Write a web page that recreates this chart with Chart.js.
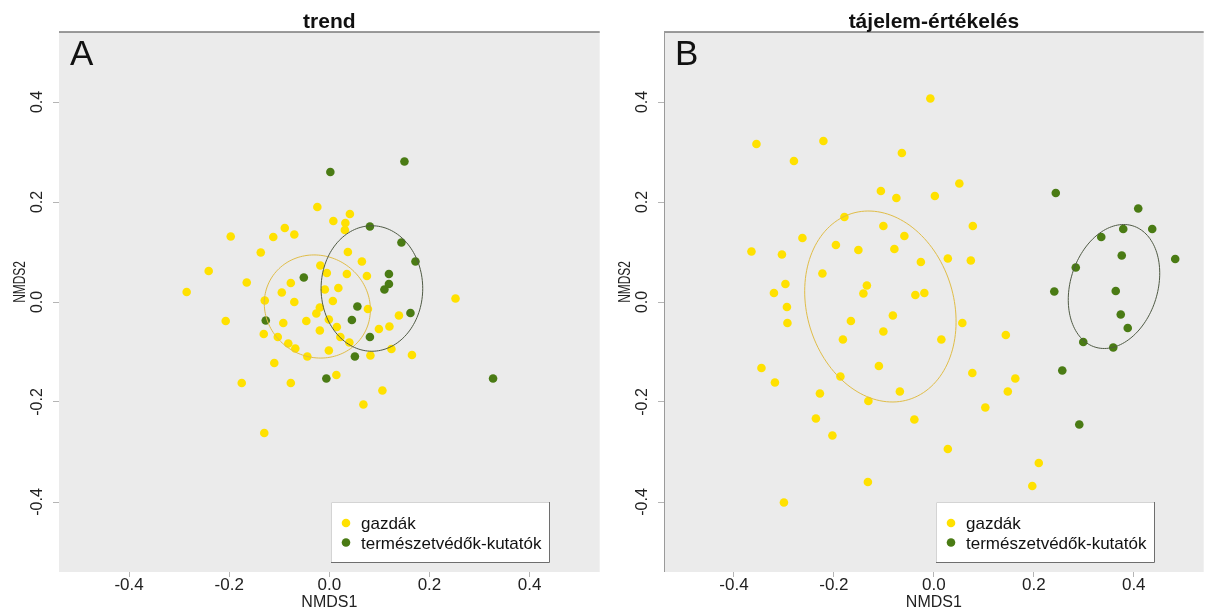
<!DOCTYPE html>
<html>
<head>
<meta charset="utf-8">
<script src="https://cdn.jsdelivr.net/npm/chart.js@4.4.0/dist/chart.umd.min.js"></script>
<style>
    html, body { margin: 0; padding: 0; background: #ffffff; }
    #wrap { position: relative; width: 1208px; height: 612px; }
    .panel { position: absolute; top: 0; width: 604px; height: 612px; }
</style>
</head>
<body>
<div id="wrap">
    <div class="panel" style="left:0"><canvas id="chartA" width="604" height="612"></canvas></div>
    <div class="panel" style="left:604px"><canvas id="chartB" width="604" height="612"></canvas></div>
</div>
<script>
// Axis setup (NMDS1 / NMDS2)
const axisLimits = [-0.54, 0.54];
const xTickValues = [-0.4, -0.2, 0.0, 0.2, 0.4];
const yTickValues = [-0.4, -0.2, 0.0, 0.2, 0.4];
const groupLabels = ['gazdák', 'természetvédők-kutatók'];
const panelTitles = ['trend', 'tájelem-értékelés'];
const panelLetters = ['A', 'B'];

// Panel A - trend
const trendGazdak = [
    [-0.024, 0.190], [0.041, 0.176], [0.008, 0.162], [0.032, 0.158], [0.031, 0.144],
    [-0.089, 0.148], [-0.112, 0.130], [-0.070, 0.135], [-0.197, 0.131], [-0.137, 0.099],
    [0.037, 0.100], [0.065, 0.081], [-0.018, 0.073], [-0.005, 0.058], [0.035, 0.056],
    [0.075, 0.052], [-0.241, 0.062], [-0.165, 0.039], [-0.077, 0.038], [-0.009, 0.025],
    [0.018, 0.028], [-0.095, 0.019], [-0.285, 0.020], [0.252, 0.007], [-0.129, 0.003],
    [-0.070, 0.000], [0.007, 0.002], [-0.019, -0.011], [0.077, -0.014], [-0.026, -0.023],
    [-0.207, -0.038], [-0.092, -0.042], [-0.046, -0.038], [-0.001, -0.035], [0.139, -0.027],
    [-0.019, -0.057], [0.015, -0.050], [0.099, -0.054], [0.120, -0.049], [-0.131, -0.064],
    [-0.103, -0.070], [0.022, -0.070], [-0.082, -0.083], [0.040, -0.081], [-0.068, -0.093],
    [-0.001, -0.097], [0.124, -0.094], [-0.044, -0.109], [0.082, -0.107], [0.165, -0.106],
    [-0.110, -0.122], [-0.175, -0.162], [-0.077, -0.162], [0.014, -0.146], [0.106, -0.177],
    [0.068, -0.205], [-0.130, -0.262]
];
const trendKutatok = [
    [0.002, 0.260], [0.150, 0.281], [0.081, 0.151], [0.144, 0.119], [0.172, 0.081],
    [-0.051, 0.049], [0.119, 0.056], [0.119, 0.036], [0.110, 0.025], [0.056, -0.009],
    [-0.127, -0.037], [0.045, -0.036], [0.162, -0.022], [0.081, -0.070], [0.051, -0.109],
    [-0.006, -0.153], [0.327, -0.153]
];
// ellipses: [centre x, centre y, semi-axis a, semi-axis b, angle in degrees]
const trendEllipseGazdak = [-0.024, -0.009, 0.108, 0.101, -33];
const trendEllipseKutatok = [0.085, 0.027, 0.1255, 0.1015, 90];

// Panel B - tájelem-értékelés
const tajelemGazdak = [
    [-0.007, 0.407], [-0.355, 0.316], [-0.221, 0.322], [-0.280, 0.282], [-0.064, 0.298],
    [0.051, 0.237], [-0.106, 0.222], [-0.075, 0.208], [0.002, 0.212], [-0.179, 0.170],
    [-0.101, 0.152], [0.078, 0.152], [-0.059, 0.132], [-0.263, 0.128], [-0.196, 0.114],
    [-0.151, 0.104], [-0.079, 0.106], [-0.365, 0.101], [-0.304, 0.095], [0.028, 0.087],
    [0.074, 0.083], [-0.026, 0.080], [-0.223, 0.057], [-0.297, 0.036], [-0.134, 0.033],
    [-0.320, 0.018], [-0.141, 0.017], [-0.037, 0.014], [-0.019, 0.018], [-0.294, -0.010],
    [-0.166, -0.038], [-0.082, -0.027], [-0.293, -0.042], [0.057, -0.042], [-0.101, -0.059],
    [0.144, -0.066], [-0.182, -0.075], [0.015, -0.075], [-0.345, -0.132], [-0.318, -0.161],
    [-0.110, -0.128], [-0.187, -0.149], [0.077, -0.142], [0.163, -0.153], [-0.228, -0.183],
    [-0.068, -0.179], [0.148, -0.179], [-0.131, -0.198], [0.103, -0.211], [-0.236, -0.233],
    [-0.039, -0.235], [-0.203, -0.267], [0.028, -0.294], [0.210, -0.322], [-0.132, -0.360],
    [0.197, -0.368], [-0.300, -0.401]
];
const tajelemKutatok = [
    [0.244, 0.218], [0.409, 0.187], [0.335, 0.130], [0.379, 0.146], [0.437, 0.146],
    [0.376, 0.093], [0.483, 0.086], [0.284, 0.069], [0.241, 0.021], [0.364, 0.022],
    [0.374, -0.025], [0.388, -0.052], [0.299, -0.080], [0.359, -0.091], [0.257, -0.137],
    [0.291, -0.245]
];
const tajelemEllipseGazdak = [-0.107, -0.009, 0.1946, 0.1468, -73];
const tajelemEllipseKutatok = [0.3605, 0.031, 0.127, 0.0873, 72.7];

const gazdakColor = '#ffe100';
const kutatokColor = '#4a7b14';
const gazdakEllipseColor = '#e0bd48';
const kutatokEllipseColor = '#4f5a44';
const fontFamily = '"Liberation Sans", Arial, sans-serif';

const fmt = v => (Math.abs(v) < 1e-9 ? 0 : v).toFixed(1);

// Draws the R-style extras: grey plot region, ellipses, frame, labels, legend
const rPlotPlugin = {
    id: 'rPlot',
    beforeDraw(chart) {
        const { ctx, chartArea: a } = chart;
        ctx.save();
        ctx.fillStyle = '#ebebeb';
        ctx.fillRect(a.left, a.top, a.right - a.left, a.bottom - a.top);
        ctx.restore();
    },
    afterDatasetsDraw(chart, args, opts) {
        const { ctx } = chart;
        const xs = chart.scales.x, ys = chart.scales.y;
        ctx.save();
        ctx.lineWidth = 1;
        opts.ellipses.forEach(([e, color]) => {
            const [cx, cy, ea, eb, ang] = e;
            const th = ang * Math.PI / 180;
            ctx.strokeStyle = color;
            ctx.beginPath();
            for (let i = 0; i <= 144; i++) {
                const t = i / 144 * 2 * Math.PI;
                const dx = ea * Math.cos(t), dy = eb * Math.sin(t);
                const px = xs.getPixelForValue(cx + dx * Math.cos(th) - dy * Math.sin(th));
                const py = ys.getPixelForValue(cy + dx * Math.sin(th) + dy * Math.cos(th));
                if (i === 0) ctx.moveTo(px, py); else ctx.lineTo(px, py);
            }
            ctx.closePath();
            ctx.stroke();
        });
        ctx.restore();
    },
    afterDraw(chart, args, opts) {
        const { ctx, chartArea: a } = chart;
        const ys = chart.scales.y;
        ctx.save();

        // top frame line (and left one for panel B)
        ctx.strokeStyle = '#7a7a7a';
        ctx.lineWidth = 1.5;
        ctx.beginPath();
        ctx.moveTo(a.left, a.top);
        ctx.lineTo(a.right, a.top);
        ctx.stroke();
        if (opts.leftLine) {
            ctx.strokeStyle = '#9a9a9a';
            ctx.lineWidth = 1;
            ctx.beginPath();
            ctx.moveTo(a.left + 0.5, a.top);
            ctx.lineTo(a.left + 0.5, a.bottom);
            ctx.stroke();
        }

        // title
        ctx.fillStyle = '#111';
        ctx.font = 'bold 21px ' + fontFamily;
        ctx.textAlign = 'center';
        ctx.textBaseline = 'alphabetic';
        ctx.fillText(opts.title, (a.left + a.right) / 2, 28);

        // panel letter
        ctx.font = '35px ' + fontFamily;
        ctx.textAlign = 'left';
        ctx.fillText(opts.letter, a.left + 11, a.top + 33);

        // rotated y tick labels
        ctx.fillStyle = '#222';
        ctx.font = '16px ' + fontFamily;
        ctx.textAlign = 'center';
        ctx.textBaseline = 'middle';
        ys.ticks.forEach(t => {
            ctx.save();
            ctx.translate(a.left - 21.5, ys.getPixelForValue(t.value));
            ctx.rotate(-Math.PI / 2);
            ctx.fillText(fmt(t.value), 0, 0);
            ctx.restore();
        });

        // y axis title
        ctx.save();
        ctx.font = '17px ' + fontFamily;
        ctx.translate(a.left - 39, 282);
        ctx.rotate(-Math.PI / 2);
        ctx.scale(0.7, 1);
        ctx.fillText('NMDS2', 0, 0);
        ctx.restore();

        // legend box
        const lx = a.left + 272, ly = a.top + 470, lw = 219, lh = 61;
        ctx.fillStyle = '#ffffff';
        ctx.fillRect(lx, ly, lw, lh);
        ctx.lineWidth = 1;
        ctx.strokeStyle = '#d4d4d4';
        ctx.beginPath();
        ctx.moveTo(lx + 0.5, ly + lh);
        ctx.lineTo(lx + 0.5, ly + 0.5);
        ctx.lineTo(lx + lw, ly + 0.5);
        ctx.stroke();
        ctx.strokeStyle = '#6e6e6e';
        ctx.beginPath();
        ctx.moveTo(lx + lw - 0.5, ly);
        ctx.lineTo(lx + lw - 0.5, ly + lh - 0.5);
        ctx.lineTo(lx, ly + lh - 0.5);
        ctx.stroke();

        chart.data.datasets.forEach((ds, i) => {
            ctx.fillStyle = ds.backgroundColor;
            ctx.beginPath();
            ctx.arc(lx + 15, ly + 21 + i * 19.5, 4.3, 0, 2 * Math.PI);
            ctx.fill();
            ctx.fillStyle = '#111';
            ctx.font = '17px ' + fontFamily;
            ctx.textAlign = 'left';
            ctx.textBaseline = 'alphabetic';
            ctx.fillText(ds.label, lx + 30, ly + 27 + i * 19.5);
        });
        ctx.restore();
    }
};

function toPoints(list) {
    return list.map(([x, y]) => ({ x, y }));
}

function makePanel(canvasId, idx, gazdak, kutatok, ellG, ellK, yAxisWidth, rightPad) {
    const ctx = document.getElementById(canvasId).getContext('2d');
    return new Chart(ctx, {
        type: 'scatter',
        data: {
            datasets: [{
                label: groupLabels[0],
                data: toPoints(gazdak),
                backgroundColor: gazdakColor,
                pointRadius: 4.3,
                pointBorderWidth: 0,
                order: 2
            }, {
                label: groupLabels[1],
                data: toPoints(kutatok),
                backgroundColor: kutatokColor,
                pointRadius: 4.3,
                pointBorderWidth: 0,
                order: 1
            }]
        },
        options: {
            responsive: false,
            animation: false,
            events: [],
            layout: { padding: { top: 32, right: rightPad, bottom: 0, left: 0 } },
            plugins: {
                legend: { display: false },
                tooltip: { enabled: false },
                rPlot: {
                    title: panelTitles[idx],
                    letter: panelLetters[idx],
                    leftLine: idx === 1,
                    ellipses: [[ellG, gazdakEllipseColor], [ellK, kutatokEllipseColor]]
                }
            },
            scales: {
                x: {
                    type: 'linear',
                    min: axisLimits[0],
                    max: axisLimits[1],
                    afterBuildTicks: s => { s.ticks = xTickValues.map(v => ({ value: v })); },
                    afterFit: s => { s.height = 40; s.paddingRight = 0; s.paddingLeft = 0; },
                    border: { display: false },
                    grid: { drawOnChartArea: false, drawTicks: true, tickLength: 5, tickColor: '#b5b5b5' },
                    ticks: {
                        callback: v => fmt(v),
                        color: '#222',
                        padding: -2,
                        maxRotation: 0,
                        font: { family: fontFamily, size: 17 }
                    },
                    title: {
                        display: true,
                        text: 'NMDS1',
                        color: '#222',
                        padding: 0,
                        font: { family: fontFamily, size: 16 }
                    }
                },
                y: {
                    type: 'linear',
                    min: axisLimits[0],
                    max: axisLimits[1],
                    afterBuildTicks: s => { s.ticks = yTickValues.map(v => ({ value: v })); },
                    afterFit: s => { s.width = yAxisWidth; },
                    border: { display: false },
                    grid: { drawOnChartArea: false, drawTicks: true, tickLength: 6, tickColor: '#b5b5b5' },
                    ticks: { display: false }
                }
            }
        },
        plugins: [rPlotPlugin]
    });
}

makePanel('chartA', 0, trendGazdak, trendKutatok, trendEllipseGazdak, trendEllipseKutatok, 59, -2);
makePanel('chartB', 1, tajelemGazdak, tajelemKutatok, tajelemEllipseGazdak, tajelemEllipseKutatok, 60, 4);
</script>
</body>
</html>
